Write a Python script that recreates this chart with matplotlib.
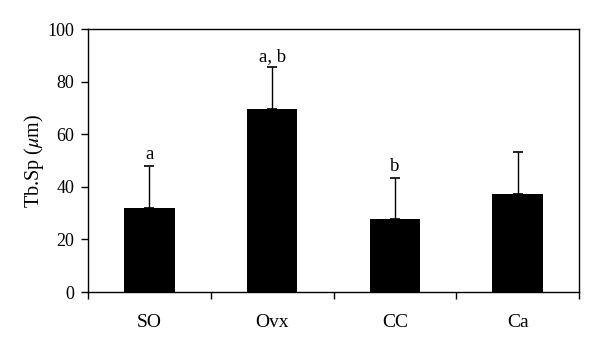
import matplotlib
matplotlib.use("Agg")
import matplotlib.pyplot as plt
import numpy as np

# Data
groups = ['SO', 'Ovx', 'CC', 'Ca']
means = [32.0, 69.7, 27.9, 37.4]
errors = [16.0, 15.7, 15.6, 15.8]
letters = ['a', 'a, b', 'b', '']

plt.rcParams['font.family'] = ['Liberation Serif', 'DejaVu Serif']
plt.rcParams['mathtext.fontset'] = 'stix'

fig = plt.figure(figsize=(6, 3.45), dpi=100)
ax = fig.add_axes([0.1467, 0.1536, 0.8183, 0.7623])

x = np.arange(len(groups)) + 0.5
ax.bar(x, means, width=0.41, color='black', zorder=2)
ax.errorbar(x, means, yerr=[np.zeros(len(errors)), errors], fmt='none',
            ecolor='black', elinewidth=1, capsize=3.5, capthick=1.2, zorder=1)

#Letters over the error bars
for xi, m, e, lab in zip(x, means, errors, letters):
    if lab:
        ax.text(xi, m + e + 1.0, lab, ha='center', va='bottom', fontsize=13.5)

ax.set_xlim(0, len(groups))
ax.set_ylim(0, 100)
ax.set_yticks([0, 20, 40, 60, 80, 100])
ax.set_xticks(np.arange(len(groups) + 1))
ax.set_xticklabels([])
ax.set_xticks(x, minor=True)
ax.set_xticklabels(groups, minor=True)
ax.tick_params(axis='x', which='minor', length=0, pad=16, labelsize=14)
ax.tick_params(axis='x', which='major', direction='out', length=5, width=1)
ax.tick_params(axis='y', direction='out', length=5, width=1, labelsize=13, pad=5)
for s in ax.spines.values():
    s.set_linewidth(1)

ax.set_ylabel(r'Tb.Sp ($\mu$m)', fontsize=14.5, labelpad=1)

fig.savefig('out.png', dpi=100)
